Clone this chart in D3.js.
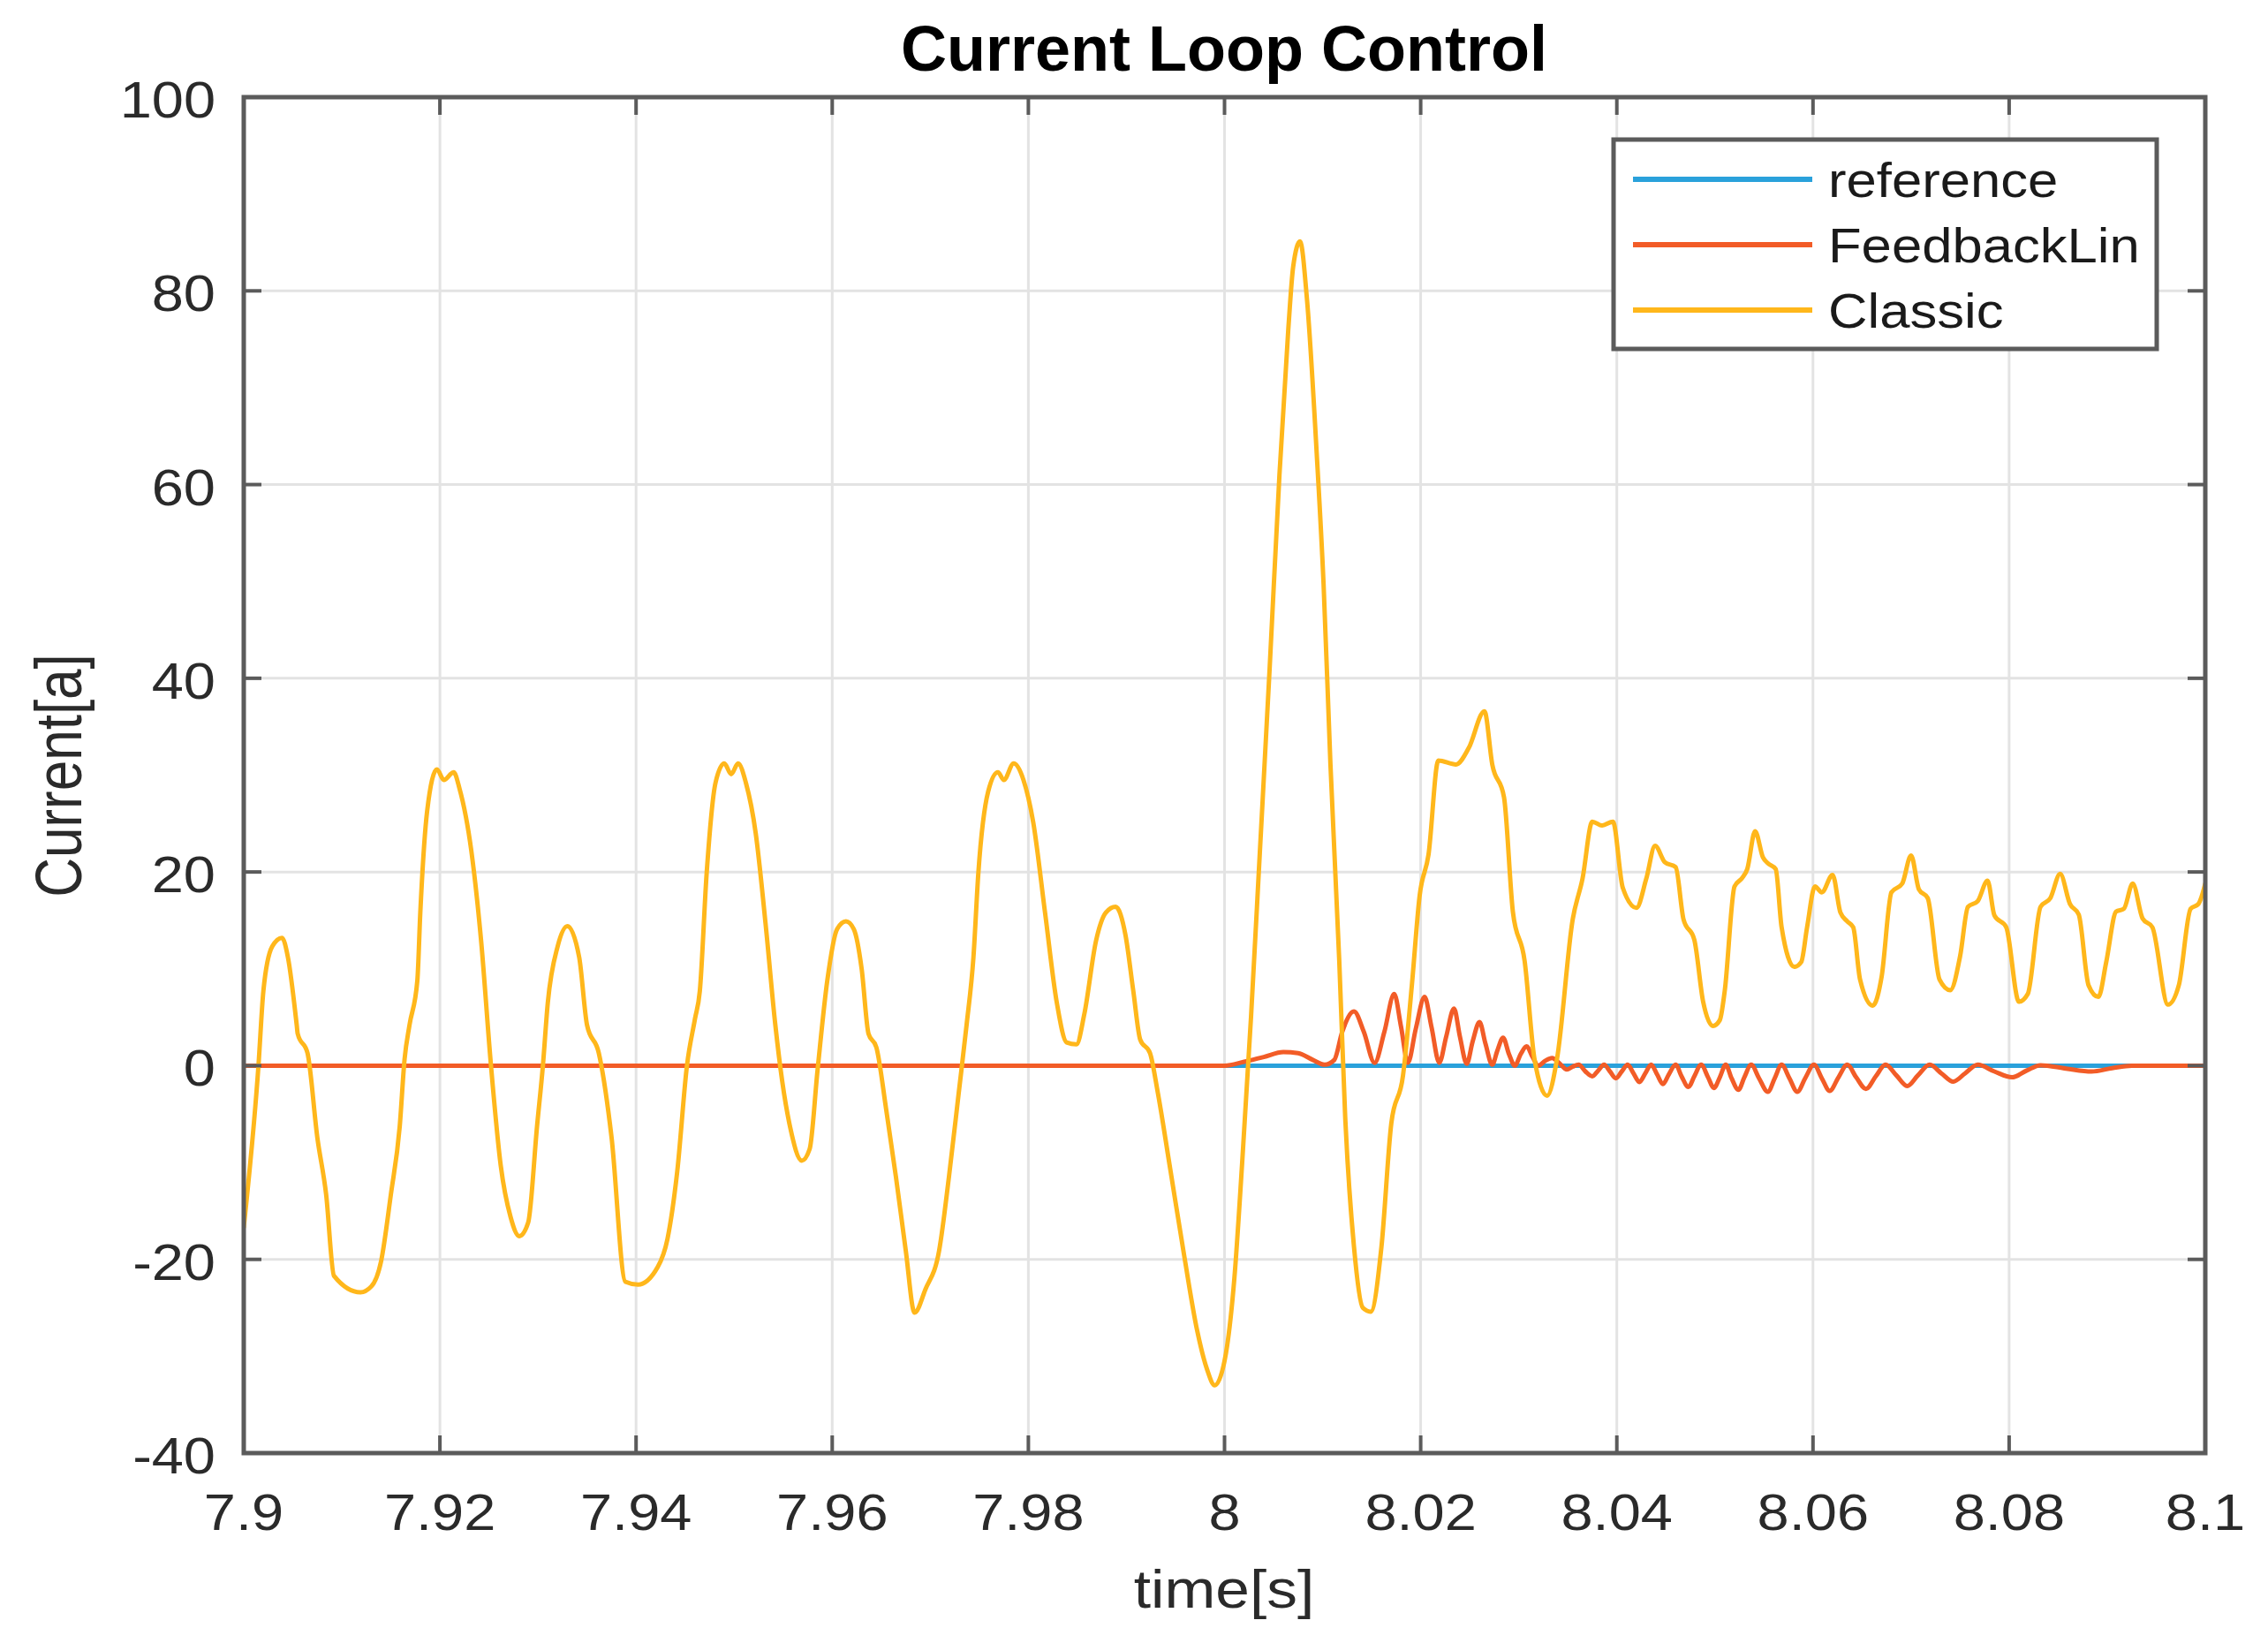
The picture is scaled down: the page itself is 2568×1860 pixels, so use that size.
<!DOCTYPE html>
<html>
<head>
<meta charset="utf-8">
<script src="https://cdn.jsdelivr.net/npm/d3@7"></script>
<style>
  html, body { margin: 0; padding: 0; background: #ffffff; }
  svg { display: block; }
  text { font-family: "Liberation Sans", Arial, Helvetica, sans-serif; }
</style>
</head>
<body>
<svg id="chart" width="2568" height="1860"></svg>
<script>
// ---------------- data ----------------
const chartTitle = "Current Loop Control";
const xLabel = "time[s]";
const yLabel = "Current[a]";
const seriesNames = ["reference", "FeedbackLin", "Classic"];
const seriesColors = ["#2AA1DB", "#F25C27", "#FFB71B"];

const xTicks = [7.9, 7.92, 7.94, 7.96, 7.98, 8.0, 8.02, 8.04, 8.06, 8.08, 8.1];
const xTickLabels = ["7.9", "7.92", "7.94", "7.96", "7.98", "8", "8.02", "8.04", "8.06", "8.08", "8.1"];
const yTicks = [-40, -20, 0, 20, 40, 60, 80, 100];
const yTickLabels = ["-40", "-20", "0", "20", "40", "60", "80", "100"];

// reference current
const referenceTime = [8.0, 8.1];
const referenceValue = [0, 0];

// FeedbackLin current
const feedbackTime = [7.9, 8.0, 8.002, 8.004, 8.006, 8.0075, 8.009, 8.0102, 8.0112, 8.012, 8.0132, 8.0142, 8.0153,
  8.0163, 8.0173, 8.018, 8.0187, 8.0195, 8.0204, 8.0211, 8.0219, 8.0226, 8.0234, 8.024, 8.0247, 8.0253, 8.026,
  8.0266, 8.0273, 8.0278, 8.0284, 8.029, 8.0296, 8.0302, 8.0308, 8.0314, 8.032, 8.0327, 8.0334, 8.0341, 8.0349,
  8.0355, 8.0361, 8.0368, 8.0375, 8.0381, 8.0387, 8.0393, 8.0399, 8.0405, 8.0411, 8.0417, 8.0423, 8.0429, 8.0435,
  8.0441, 8.0447, 8.0453, 8.046, 8.0466, 8.0473, 8.0479, 8.0486, 8.0493, 8.0499, 8.0505, 8.0511, 8.0517, 8.0524,
  8.053, 8.0537, 8.0545, 8.0554, 8.0561, 8.0568, 8.0576, 8.0584, 8.0592, 8.0601, 8.0609, 8.0617, 8.0626, 8.0635,
  8.0644, 8.0654, 8.0664, 8.0674, 8.0685, 8.0696, 8.0707, 8.0719, 8.0731, 8.0743, 8.0755, 8.0768, 8.0785, 8.0803,
  8.0818, 8.0832, 8.0858, 8.0884, 8.0905, 8.0925, 8.1];
const feedbackValue = [0, 0, 0.4, 0.9, 1.4, 1.3, 0.6, 0.1, 0.6, 3.5, 5.6, 3.5, 0.3,
  3.5, 7.4, 4.0, 0.3, 3.8, 7.1, 4.0, 0.3, 3.0, 5.9, 3.0, 0.2, 2.5, 4.5,
  2.3, 0.1, 1.5, 2.9, 1.2, 0, 1.2, 2.0, 0.9, 0, 0.5, 0.8, 0.3, -0.4,
  -0.1, 0.1, -0.6, -1.1, -0.5, 0.1, -0.6, -1.3, -0.6, 0.1, -0.8, -1.7, -0.8, 0.1,
  -0.9, -1.9, -0.9, 0.1, -1.1, -2.2, -1.1, 0.1, -1.2, -2.3, -1.2, 0.1, -1.3, -2.5,
  -1.2, 0.1, -1.3, -2.7, -1.3, 0.1, -1.3, -2.7, -1.3, 0.1, -1.3, -2.6, -1.2, 0.1,
  -1.2, -2.4, -1.1, 0.1, -1.0, -2.1, -1.0, 0.1, -0.8, -1.65, -0.8, 0.1, -0.6, -1.2,
  -0.5, 0.05, -0.3, -0.6, -0.25, 0, 0];

// Classic current
const classicTime = [7.9, 7.9015, 7.902, 7.9029, 7.9039, 7.9045, 7.9054, 7.9055, 7.9065, 7.9075, 7.9084, 7.9092,
  7.9119, 7.913, 7.914, 7.915, 7.9159, 7.9164, 7.9169, 7.9177, 7.918, 7.9187, 7.9197, 7.9204, 7.9214, 7.922,
  7.9232, 7.9242, 7.9252, 7.9262, 7.9272, 7.9281, 7.929, 7.9299, 7.9305, 7.931, 7.932, 7.933, 7.9342, 7.935,
  7.9362, 7.9375, 7.9389, 7.9402, 7.9422, 7.9432, 7.9442, 7.9452, 7.946, 7.9465, 7.9472, 7.9481, 7.949, 7.9497,
  7.9504, 7.9512, 7.9522, 7.9532, 7.9542, 7.9549, 7.9557, 7.9569, 7.9577, 7.9585, 7.9595, 7.9605, 7.9614, 7.9622,
  7.963, 7.9637, 7.9645, 7.9655, 7.9665, 7.9675, 7.9684, 7.9695, 7.9709, 7.9719, 7.9729, 7.9737, 7.9744, 7.9749,
  7.9759, 7.9769, 7.9775, 7.9785, 7.9795, 7.9805, 7.9817, 7.9829, 7.9839, 7.9849, 7.9857, 7.9869, 7.9879, 7.9889,
  7.9899, 7.9907, 7.9914, 7.9924, 7.9932, 7.9945, 7.9959, 7.9972, 7.9982, 7.999, 8.0, 8.001, 8.0018, 8.0027,
  8.0036, 8.0046, 8.0056, 8.0065, 8.007, 8.0077, 8.0084, 8.0094, 8.0101, 8.0108, 8.0117, 8.0123, 8.0132, 8.0141,
  8.0149, 8.016, 8.017, 8.0182, 8.0191, 8.0199, 8.0208, 8.0218, 8.0236, 8.0249, 8.0265, 8.0273, 8.0285, 8.0294,
  8.0306, 8.0316, 8.0329, 8.0339, 8.0355, 8.0365, 8.0375, 8.0385, 8.0396, 8.0406, 8.042, 8.043, 8.0439, 8.0449,
  8.046, 8.0468, 8.0479, 8.0488, 8.0498, 8.0505, 8.051, 8.052, 8.0528, 8.0533, 8.0541, 8.0549, 8.0554, 8.0562,
  8.0568, 8.0581, 8.0588, 8.0594, 8.0602, 8.0609, 8.062, 8.0628, 8.0635, 8.0641, 8.0648, 8.0661, 8.067, 8.068,
  8.0691, 8.07, 8.0708, 8.0717, 8.0729, 8.074, 8.075, 8.0758, 8.0768, 8.0778, 8.0785, 8.0797, 8.081, 8.0819,
  8.0832, 8.0842, 8.0852, 8.0862, 8.0871, 8.0881, 8.0891, 8.0899, 8.0909, 8.0917, 8.0926, 8.0936, 8.0946, 8.0962,
  8.0973, 8.0985, 8.0993, 8.1];
const classicValue = [-16.7, 0, 7.7, 12.3, 13.2, 11.2, 4.2, 3.3, 1.3, -7.4, -13.3, -21.7,
  -23.4, -22.8, -20.2, -13.3, -6.3, 0.7, 4.2, 8.8, 15.8, 26.3, 30.6, 29.5, 30.3, 28.6,
  22.2, 12.9, 0.1, -10.3, -15.6, -17.6, -16.2, -6.3, 0, 6.5, 12.3, 14.4, 11.2, 4.2,
  1.3, -7.4, -22.3, -22.6, -20.8, -17.9, -10.9, 0.1, 4.8, 7.7, 19.9, 29.2, 31.2, 30.1,
  31.2, 29.2, 24.0, 14.7, 4.2, -1.6, -6.3, -9.8, -8.6, -0.5, 8.8, 14.1, 14.9, 14.1,
  10.0, 3.3, 1.9, -4.5, -11.5, -19.1, -25.5, -23.1, -19.1, -11.5, -2.8, 4.2, 11.2, 19.9,
  28.3, 30.3, 29.5, 31.2, 29.5, 25.1, 15.8, 6.5, 2.4, 2.2, 5.3, 12.9, 15.8, 16.4,
  13.5, 7.7, 2.7, 1.3, -2.8, -10.9, -19.7, -27.3, -31.3, -33.0, -30.5, -22.0, -10.0, 5.0,
  22.0, 41.0, 61.0, 76.0, 82.5, 85.1, 79.2, 63.2, 49.7, 31.1, 10.8, -5.2, -18.7, -25.0,
  -25.4, -18.7, -6.0, -1.0, 8.3, 17.6, 21.8, 31.5, 31.1, 32.8, 36.6, 31.1, 27.7, 15.9,
  10.8, 0.7, -3.1, 0.7, 15.1, 19.3, 25.2, 24.8, 25.2, 18.4, 16.3, 19.3, 22.7, 21.0,
  20.5, 15.1, 13.0, 6.6, 4.1, 4.7, 7.7, 18.5, 19.4, 20.3, 24.2, 21.5, 20.9, 20.3,
  14.3, 10.2, 10.7, 14.3, 18.5, 17.9, 19.7, 15.8, 14.9, 14.3, 8.9, 6.2, 9.2, 17.9,
  18.8, 21.7, 18.2, 17.3, 8.9, 7.8, 11.3, 16.4, 17.0, 19.1, 15.5, 14.3, 6.6, 7.4,
  16.4, 17.3, 19.8, 16.7, 15.6, 8.3, 7.1, 10.7, 15.9, 16.2, 18.8, 15.2, 14.3, 6.3,
  8.3, 16.2, 16.7, 18.8];

// ---------------- drawing ----------------
const svg = d3.select("#chart");
svg.append("rect").attr("width", 2568).attr("height", 1860).attr("fill", "#ffffff");

const plot = { left: 276, right: 2497, top: 110, bottom: 1645 };
const x = d3.scaleLinear().domain([7.9, 8.1]).range([plot.left, plot.right]);
const y = d3.scaleLinear().domain([-40, 100]).range([plot.bottom, plot.top]);

const axisColor = "#5b5b5b";
const textColor = "#2a2a2a";
const stretch = 1.12;

// grid
const grid = svg.append("g");
grid.selectAll("line.gx").data(xTicks.slice(1, -1)).enter().append("line")
  .attr("x1", d => x(d)).attr("x2", d => x(d))
  .attr("y1", plot.top).attr("y2", plot.bottom)
  .attr("stroke", "#e3e3e3").attr("stroke-width", 3);
grid.selectAll("line.gy").data(yTicks.slice(1, -1)).enter().append("line")
  .attr("y1", d => y(d)).attr("y2", d => y(d))
  .attr("x1", plot.left).attr("x2", plot.right)
  .attr("stroke", "#e3e3e3").attr("stroke-width", 3);

// clip
svg.append("clipPath").attr("id", "clip").append("rect")
  .attr("x", plot.left).attr("y", plot.top)
  .attr("width", plot.right - plot.left).attr("height", plot.bottom - plot.top);

const line = d3.line().x(d => x(d[0])).y(d => y(d[1])).curve(d3.curveMonotoneX);
const series = [
  d3.zip(referenceTime, referenceValue),
  d3.zip(feedbackTime, feedbackValue),
  d3.zip(classicTime, classicValue)
];
const lines = svg.append("g").attr("clip-path", "url(#clip)");
series.forEach((s, i) => {
  lines.append("path").datum(s)
    .attr("d", line)
    .attr("fill", "none")
    .attr("stroke", seriesColors[i])
    .attr("stroke-width", 5)
    .attr("stroke-linejoin", "round")
    .attr("stroke-linecap", "round");
});

// axes (box with inward ticks)
const axes = svg.append("g");
const tickLen = 20;
xTicks.forEach(t => {
  axes.append("line").attr("x1", x(t)).attr("x2", x(t))
    .attr("y1", plot.bottom).attr("y2", plot.bottom - tickLen)
    .attr("stroke", axisColor).attr("stroke-width", 4);
  axes.append("line").attr("x1", x(t)).attr("x2", x(t))
    .attr("y1", plot.top).attr("y2", plot.top + tickLen)
    .attr("stroke", axisColor).attr("stroke-width", 4);
});
yTicks.forEach(v => {
  axes.append("line").attr("y1", y(v)).attr("y2", y(v))
    .attr("x1", plot.left).attr("x2", plot.left + tickLen)
    .attr("stroke", axisColor).attr("stroke-width", 4);
  axes.append("line").attr("y1", y(v)).attr("y2", y(v))
    .attr("x1", plot.right).attr("x2", plot.right - tickLen)
    .attr("stroke", axisColor).attr("stroke-width", 4);
});
axes.append("rect")
  .attr("x", plot.left).attr("y", plot.top)
  .attr("width", plot.right - plot.left).attr("height", plot.bottom - plot.top)
  .attr("fill", "none").attr("stroke", axisColor).attr("stroke-width", 5);

// tick labels
const labels = svg.append("g").attr("fill", textColor).attr("font-size", 58);
xTicks.forEach((t, i) => {
  labels.append("text")
    .attr("transform", `translate(${x(t)},1732) scale(${stretch},1)`)
    .attr("text-anchor", "middle")
    .text(xTickLabels[i]);
});
yTicks.forEach((v, i) => {
  labels.append("text")
    .attr("transform", `translate(244,${y(v) + 23}) scale(${stretch},1)`)
    .attr("text-anchor", "end")
    .text(yTickLabels[i]);
});

// axis titles
svg.append("text")
  .attr("transform", `translate(1386,1820) scale(${stretch},1)`)
  .attr("text-anchor", "middle").attr("font-size", 62).attr("fill", textColor)
  .text(xLabel);
svg.append("text")
  .attr("transform", `translate(92,878) scale(1.2,1) rotate(-90)`)
  .attr("text-anchor", "middle").attr("font-size", 62).attr("fill", textColor)
  .text(yLabel);

// title
svg.append("text")
  .attr("x", 1386).attr("y", 80)
  .attr("text-anchor", "middle").attr("font-size", 72).attr("font-weight", "bold")
  .attr("fill", "#000000")
  .text(chartTitle);

// legend
const legend = svg.append("g");
legend.append("rect")
  .attr("x", 1827).attr("y", 158).attr("width", 615).attr("height", 237)
  .attr("fill", "#ffffff").attr("stroke", axisColor).attr("stroke-width", 5);
const legendRows = [203, 277, 351];
seriesNames.forEach((name, i) => {
  legend.append("line")
    .attr("x1", 1849).attr("x2", 2052)
    .attr("y1", legendRows[i]).attr("y2", legendRows[i])
    .attr("stroke", seriesColors[i]).attr("stroke-width", 6);
  legend.append("text")
    .attr("transform", `translate(2070,${legendRows[i] + 20}) scale(1.1,1)`)
    .attr("font-size", 56).attr("fill", "#1a1a1a")
    .text(name);
});
</script>
</body>
</html>
